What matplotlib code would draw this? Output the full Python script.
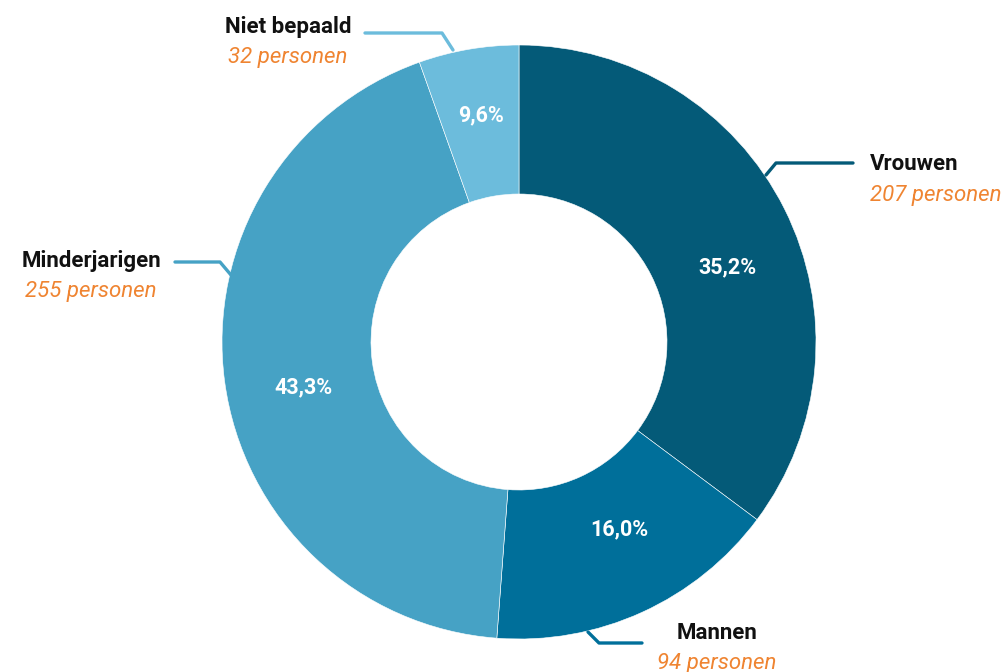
import numpy as np
import matplotlib.pyplot as plt

plt.rcParams['font.family'] = ['Roboto', 'DejaVu Sans']

# gegevens
categorieen = ['Vrouwen', 'Mannen', 'Minderjarigen', 'Niet bepaald']
aantallen = [207, 94, 255, 32]
percent_labels = ['35,2%', '16,0%', '43,3%', '9,6%']
kleuren = ['#045a78', '#006f9a', '#46a2c5', '#6cbcdc']

W, H = 1005, 672


def py(y):
    # beeld-y (van boven) omzetten naar as-y (van onder)
    return H - y


fig = plt.figure(figsize=(W / 100, H / 100), dpi=100)
ax = fig.add_axes([0, 0, 1, 1])
ax.set_xlim(0, W)
ax.set_ylim(0, H)
ax.set_aspect('equal')
ax.axis('off')

cx, cy = 519, py(342)
R = 297
breedte = 149

wedges, _ = ax.pie(aantallen, colors=kleuren, startangle=90, counterclock=False,
                   center=(cx, cy), radius=R,
                   wedgeprops=dict(width=breedte, edgecolor='white', linewidth=0.4))
ax.set_xlim(0, W)
ax.set_ylim(0, H)

# percentages in de ring: verschuiving t.o.v. het midden van elk segment
# (graden, straal)
pct_verschuiving = [(-7, 221), (3.7, 213), (4.2, 220), (-0.3, 230)]
for w, lab, (dh, r) in zip(wedges, percent_labels, pct_verschuiving):
    hoek = np.deg2rad((w.theta1 + w.theta2) / 2 + dh)
    ax.text(cx + r * np.cos(hoek), cy + r * np.sin(hoek), lab,
            color='white', fontsize=15.5, fontweight='bold', ha='center', va='center')

# verbindingslijnen (x, y in beeldcoordinaten)
lijnen = [
    [(766, 175), (776, 163), (853, 163)],
    [(588, 632), (599, 643), (642, 643)],
    [(231, 275), (220, 262), (175, 262)],
    [(453, 50), (442, 33), (365, 33)],
]
for pts, kl in zip(lijnen, kleuren):
    xs = [p[0] for p in pts]
    ys = [py(p[1]) for p in pts]
    ax.plot(xs, ys, color=kl, lw=2.4, solid_capstyle='round')

# labels (x, y, uitlijning)
label_pos = [
    (870, 164, 'left'),
    (717, 633, 'center'),
    (91, 261, 'center'),
    (288, 27, 'center'),
]
for (x, y, ha), naam, n in zip(label_pos, categorieen, aantallen):
    ax.text(x, py(y), naam, fontsize=16, fontweight='bold', color='#111111',
            ha=ha, va='center')
    ax.text(x, py(y + 31), f'{n} personen', fontsize=16, fontstyle='italic',
            color='#ef8431', ha=ha, va='center')

fig.savefig('out.png', dpi=100)
